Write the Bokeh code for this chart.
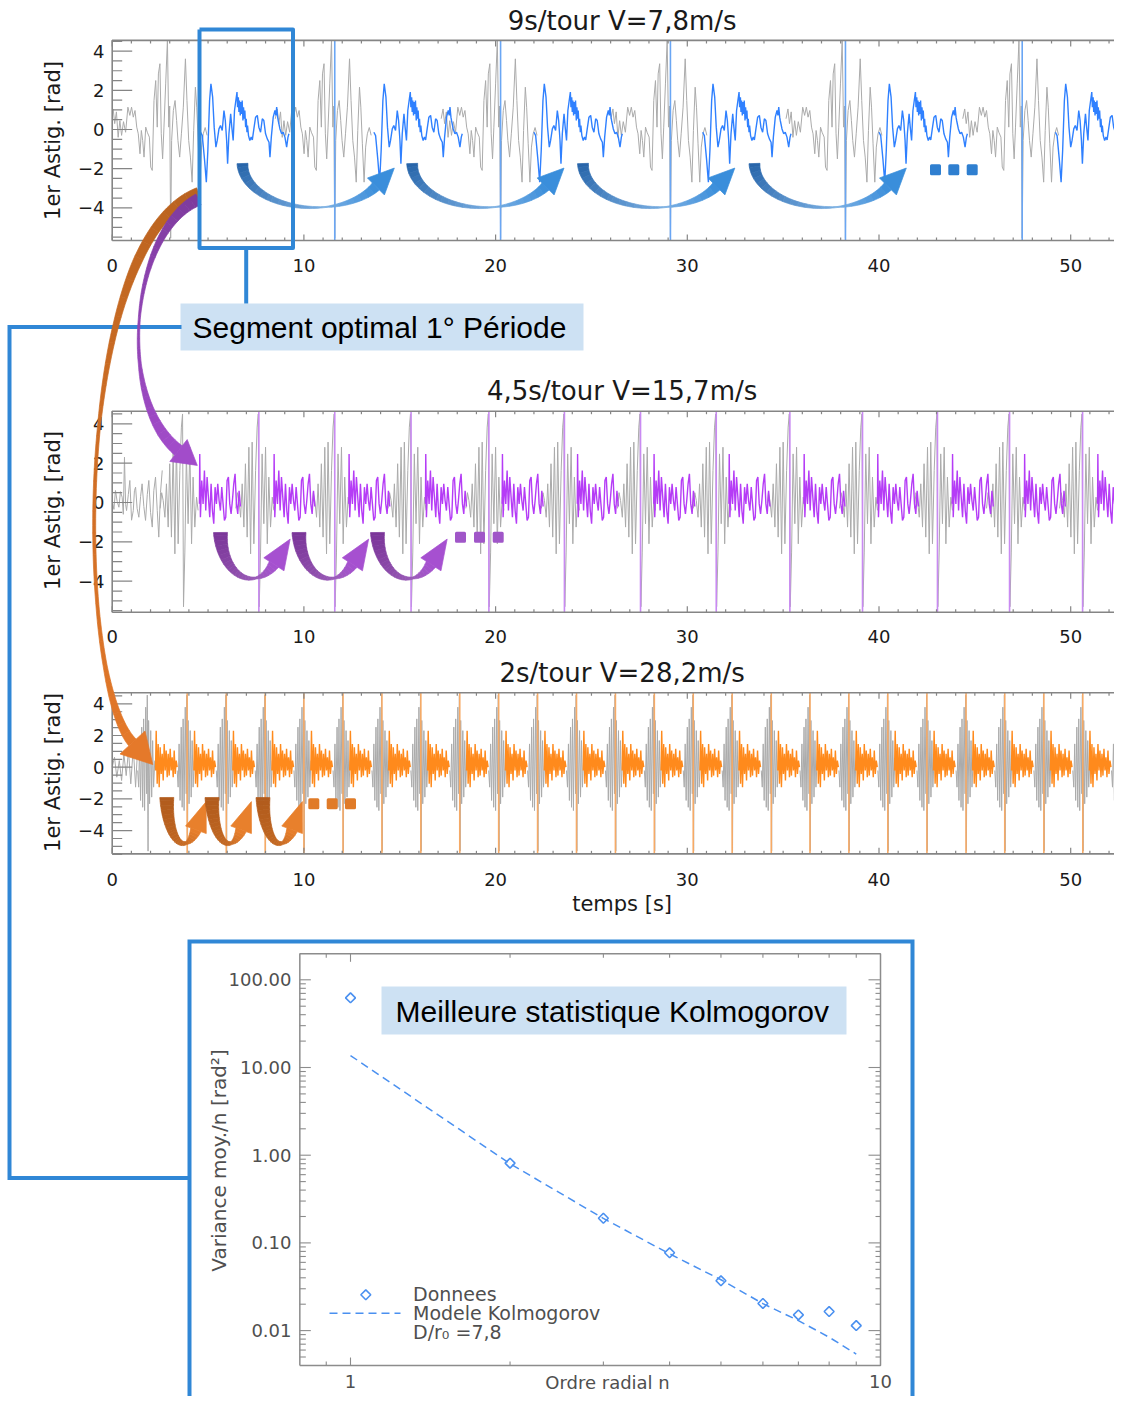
import numpy as np
from bokeh.plotting import figure
from bokeh.models import Range1d, LogScale
from bokeh.embed import file_html
from bokeh.resources import INLINE
from bokeh.core.properties import value

# ============================ DATA ============================
t_ticks = [0, 10, 20, 30, 40, 50]
t_tick_labels = ["0", "10", "20", "30", "40", "50"]
t_max = 53.07
amp_ticks = [-4, -2, 0, 2, 4]
amp_tick_labels = ["\u22124", "\u22122", "0", "2", "4"]
amp_label = "1er Astig. [rad]"
time_label = "temps [s]"

# --- panel 1 : 9 s/tour
p1_title = "9s/tour V=7,8m/s"
p1_first_edge = 3.05
p1_edges = [11.61, 20.26, 29.12, 38.25, 47.47]
p1_seg_starts = [4.61, 13.65, 22.00, 30.80, 40.00, 49.20]
p1_seg_dt = [0.00, 0.09, 0.21, 0.30, 0.38, 0.47, 0.54, 0.63, 0.71, 0.80,
             0.87, 0.96, 1.04, 1.13, 1.22, 1.29, 1.36, 1.41, 1.48, 1.57,
             1.63, 1.70, 1.77, 1.84, 1.90, 1.93, 1.97, 2.00, 2.03, 2.07,
             2.10, 2.14, 2.17, 2.21, 2.24, 2.28, 2.31, 2.35, 2.38, 2.42,
             2.45, 2.50, 2.57, 2.64, 2.70, 2.78, 2.87, 2.96, 3.04, 3.13,
             3.22, 3.30, 3.39, 3.48, 3.57, 3.62, 3.69, 3.79, 3.88, 3.93,
             3.97, 4.02, 4.05, 4.14, 4.23, 4.31, 4.40, 4.49, 4.56, 4.61]
p1_seg_v = [-0.14, -0.31, -1.58, -2.69, -1.07, 1.48, 2.33, 1.65, 0.12, -0.90,
            -0.56, 0.03, 0.20, -0.05, 0.97, 0.46, -0.56, -1.75, -0.22, 0.80,
            0.12, -0.56, 0.97, 1.48, 1.91, 1.14, 1.65, 0.89, 1.48, 0.72,
            1.40, 0.80, 1.48, 0.46, 1.14, 0.55, 0.97, 0.12, 0.55, -0.14,
            0.20, -0.31, -0.56, -0.39, -0.53, 0.03, 0.63, 0.72, 0.12, -0.14,
            0.55, 0.46, -0.22, -0.48, -0.65, -1.41, -0.39, 0.63, 0.97, 0.72,
            1.14, 0.63, 0.46, 0.03, -0.22, -0.14, -0.39, -0.90, -0.39, -0.22]
p1_gray_dt = [-3.10, -3.00, -2.92, -2.83, -2.74, -2.65, -2.56, -2.46, -2.35, -2.23,
              -2.13, -2.04, -1.95, -1.86, -1.77, -1.69, -1.60, -1.53, -1.46, -1.39,
              -1.30, -1.22, -1.11, -1.04, -0.96, -0.87, -0.78, -0.70, -0.64, -0.56,
              -0.49, -0.42, -0.35, -0.26, -0.17, -0.10, -0.05, 0.00, 0.05, 0.14,
              0.23, 0.31, 0.38, 0.47, 0.56, 0.66, 0.77, 0.85, 0.94, 1.03,
              1.12, 1.20, 1.29, 1.36, 1.44, 1.53, 1.61, 1.70, 1.80, 1.90]
p1_gray_v = [0.55, 1.05, 0.30, 0.90, -0.40, 0.45, -0.30, 0.40, -0.14, 1.14,
             0.72, 1.14, 0.63, 0.97, 0.12, -0.22, -1.24, -0.05, -0.56, -1.41,
             0.12, -0.14, -0.39, -1.92, -2.09, 1.48, 2.50, 0.12, 2.84, 3.36,
             -0.22, -1.50, 0.12, 2.33, 4.55, 0.12, 1.20, -5.55, -0.56, 0.97,
             1.48, 0.46, -0.56, -1.41, -0.22, 1.14, 3.61, 1.48, -0.56, -1.41,
             -2.69, -0.05, 2.16, 1.14, -0.73, -2.69, -0.90, -0.22, 0.10, -0.30]

# --- panel 2 : 4,5 s/tour
p2_title = "4,5s/tour V=15,7m/s"
p2_first_edge = 3.70
p2_edges = [7.65, 11.61, 15.59, 19.65, 23.59, 27.56, 31.51, 35.35, 39.14, 43.05, 46.81, 50.62]
p2_seg_starts = [4.55, 8.43, 12.34, 16.34, 20.34, 24.26, 28.25, 32.17, 36.08, 39.92, 43.82, 47.58, 51.40]
p2_seg_dt = [0.000, 0.017, 0.052, 0.122, 0.191, 0.261, 0.330, 0.400, 0.469, 0.539,
             0.609, 0.678, 0.748, 0.817, 0.887, 0.956, 1.026, 1.095, 1.165, 1.234,
             1.304, 1.374, 1.443, 1.513, 1.582, 1.652, 1.721, 1.791, 1.860, 1.930,
             2.000, 2.070, 2.140]
p2_seg_v = [-0.07, 2.47, -0.75, 1.12, -0.07, 1.63, -0.41, 1.29, 0.27, -0.75,
            0.95, -0.41, -1.08, 0.78, -0.07, 0.95, 0.10, -0.41, 0.78, -0.07,
            -0.91, -0.75, 1.12, 1.29, -0.07, -0.58, 0.10, 0.95, 1.46, -0.07,
            -0.58, 0.60, -0.20]
p2_gray_dt = [-1.20, -1.12, -1.04, -0.95, -0.87, -0.78, -0.70, -0.61, -0.52, -0.43,
              -0.35, -0.26, -0.17, -0.09, -0.03, 0.02, 0.09, 0.17, 0.26, 0.35,
              0.44, 0.52, 0.61, 0.70, 0.78]
p2_gray_v = [-0.30, 0.50, 0.10, -0.75, 0.95, -1.25, 1.97, -1.76, 2.81, -2.61,
             3.07, -2.10, 1.63, 3.83, 4.50, -5.30, -2.52, 2.47, -1.08, 2.81,
             -2.10, 1.29, -1.25, 0.27, -0.40]
p2_lead_t = [0.00, 0.09, 0.17, 0.26, 0.35, 0.43, 0.52, 0.58, 0.64, 0.70,
             0.75, 0.84, 0.92, 1.01, 1.10, 1.16, 1.22, 1.30, 1.39, 1.48,
             1.56, 1.65, 1.74, 1.83, 1.91, 2.00, 2.09, 2.17, 2.26, 2.35,
             2.43, 2.52, 2.61]
p2_lead_v = [0.10, -0.35, 0.61, 0.05, -0.24, 0.55, 0.27, -0.60, 2.30, -0.10,
             -0.41, 0.40, 1.12, -0.90, -0.41, 0.60, 0.78, -0.30, -0.75, 0.30,
             0.95, -0.20, -0.91, 0.40, 1.12, -0.50, -1.25, 0.60, 1.29, -0.40,
             -1.76, 0.50, 1.63]

# --- panel 3 : 2 s/tour
p3_title = "2s/tour V=28,2m/s"
p3_first_edge = 1.85
p3_edges = [3.91, 5.95, 7.98, 10.00, 12.04, 14.07, 16.10, 18.13, 20.16, 22.19,
            24.22, 26.25, 28.28, 30.31, 32.34, 34.38, 36.40, 38.43, 40.46, 42.50,
            44.54, 46.56, 48.60, 50.63, 52.65]
p3_seg_starts = [2.26, 4.26, 6.29, 8.33, 10.36, 12.39, 14.42, 16.45, 18.48, 20.51,
                 22.54, 24.57, 26.60, 28.63, 30.66, 32.69, 34.72, 36.75, 38.78, 40.81,
                 42.84, 44.88, 46.91, 48.94, 50.97]
p3_seg_dt = [0.000, 0.035, 0.087, 0.139, 0.191, 0.243, 0.296, 0.348, 0.400, 0.452,
             0.504, 0.556, 0.609, 0.661, 0.713, 0.765, 0.817, 0.869, 0.922, 0.974,
             1.026, 1.078, 1.130]
p3_seg_v = [-0.21, 2.30, -1.05, 1.47, -1.26, 1.26, -0.42, 0.84, -0.84, 1.47,
            -0.21, 1.05, -0.63, 0.84, -0.53, 1.16, -0.21, 0.63, -0.63, 1.05,
            -0.42, 0.42, 0.00]
p3_gray_dt = [-0.52, -0.47, -0.42, -0.37, -0.31, -0.26, -0.21, -0.16, -0.10, -0.05,
              -0.02, 0.02, 0.05, 0.10, 0.16, 0.21, 0.26, 0.31, 0.37]
p3_gray_v = [-0.21, -1.26, 1.47, -2.10, 2.53, -2.53, 3.05, -2.74, 3.79, -1.68,
             4.55, -5.30, 2.95, -2.31, 2.31, -1.89, 1.68, -1.26, 0.42]
p3_lead_t = [0.00, 0.12, 0.24, 0.37, 0.49, 0.61, 0.73, 0.85, 0.97, 1.10, 1.22, 1.30]
p3_lead_v = [0.00, 0.63, -0.63, 0.42, -0.84, 0.84, -0.53, 1.05, -1.05, 1.26, -1.26, 0.60]

# --- variance vs radial order (log-log)
radial_order = [1, 2, 3, 4, 5, 6, 7, 8, 9]
variance_data = [62.3, 0.811, 0.191, 0.0771, 0.0370, 0.0204, 0.0151, 0.0165, 0.0114]
variance_model = [13.7, 0.80, 0.19, 0.075, 0.038, 0.0203, 0.0130, 0.0084, 0.0054]
var_ticks = [0.01, 0.1, 1.0, 10.0, 100.0]
var_tick_labels = ["0.01", "0.10", "1.00", "10.00", "100.00"]
order_ticks = [1.0, 10.0]
order_tick_labels = ["1", "10"]
var_label = "Variance moy./n [rad\u00b2]"
order_label = "Ordre radial n"
legend_labels = ["Donnees", "Modele Kolmogorov", "D/r\u2080 =7,8"]
var_frame_n = (0.8024, 10.0)
var_frame_v = (0.0040, 197.9)

# annotation texts
seg_text = "Segment optimal 1\u00b0 P\u00e9riode"
best_text = "Meilleure statistique Kolmogorov"

# ============================ STYLE ============================
GRAY = "#ababab"
AX = "#858585"
TXT = "#1a1a1a"
LTXT = "#4f4f4f"
BLUE, BLUE_EDGE = "#2f80ff", "#6aa6f4"
PURPLE, PURPLE_EDGE = "#b53cf6", "#c98af2"
ORANGE, ORANGE_EDGE = "#ff8a1c", "#f6aa66"
BOX = "#3087d6"
LBLUE = "#cde1f3"
DBLUE = "#4a90f0"
FONT = value("DejaVu Sans")
SANS = value("Liberation Sans")

# ============================ CANVAS ============================
W, H = 1114, 1396
OX, OY = 0, 0
p = figure(width=W, height=H, x_range=Range1d(OX, OX + W), y_range=Range1d(OY + H, OY),
           x_axis_type=None, y_axis_type=None, toolbar_location=None, title=None,
           min_border=0, output_backend="svg")
p.outline_line_color = None
p.background_fill_color = "white"
p.border_fill_color = "white"

T0, TPX = 111.7, 19.17
N1PX, NDEC = 350.0, 530.0
V100PX, VDEC = 979.3, 87.7


def lin_x(px0, v0, ppu):
    return Range1d(v0 + (OX - px0) / ppu, v0 + (OX + W - px0) / ppu)


def lin_y(px0, v0, ppu):
    return Range1d(v0 - (OY + H - px0) / ppu, v0 + (px0 - OY) / ppu)


p.extra_x_ranges = {"t": lin_x(T0, 0.0, TPX),
                    "n": Range1d(10 ** ((OX - N1PX) / NDEC), 10 ** ((OX + W - N1PX) / NDEC))}
p.extra_y_ranges = {"a1": lin_y(129.0, 0.0, 19.58),
                    "a2": lin_y(502.0, 0.0, 19.675),
                    "a3": lin_y(766.7, 0.0, 15.84),
                    "var": Range1d(10 ** (2 - (OY + H - V100PX) / VDEC), 10 ** (2 + (V100PX - OY) / VDEC))}
p.extra_x_scales = {"n": LogScale()}
p.extra_y_scales = {"var": LogScale()}


def tile(starts, dt, vals):
    dt = np.asarray(dt, float)
    vals = np.asarray(vals, float)
    n = min(len(dt), len(vals))
    xs, ys = [], []
    for s in starts:
        x = s + dt[:n]
        y = vals[:n]
        m = (x >= 0) & (x <= t_max)
        if m.sum() > 1:
            xs.append(x[m].tolist())
            ys.append(y[m].tolist())
    return xs, ys


panels = [
    dict(y="a1", ppu=19.58, zero=129.0, lo=-5.67, hi=4.55, title=p1_title, title_px=20.0,
         xlab_px=265.0, ylab_px=140.0, first=p1_first_edge, edges=p1_edges, gdt=p1_gray_dt, gv=p1_gray_v,
         lead_t=None, lead_v=None, starts=p1_seg_starts, sdt=p1_seg_dt, sv=p1_seg_v,
         col=BLUE, ecol=BLUE_EDGE),
    dict(y="a2", ppu=19.675, zero=502.0, lo=-5.58, hi=4.64, title=p2_title, title_px=390.0,
         xlab_px=635.5, ylab_px=510.0, first=p2_first_edge, edges=p2_edges, gdt=p2_gray_dt, gv=p2_gray_v,
         lead_t=p2_lead_t, lead_v=p2_lead_v, starts=p2_seg_starts, sdt=p2_seg_dt, sv=p2_seg_v,
         col=PURPLE, ecol=PURPLE_EDGE),
    dict(y="a3", ppu=15.84, zero=766.7, lo=-5.47, hi=4.70, title=p3_title, title_px=672.0,
         xlab_px=878.5, ylab_px=772.0, first=p3_first_edge, edges=p3_edges, gdt=p3_gray_dt, gv=p3_gray_v,
         lead_t=p3_lead_t, lead_v=p3_lead_v, starts=p3_seg_starts, sdt=p3_seg_dt, sv=p3_seg_v,
         col=ORANGE, ecol=ORANGE_EDGE),
]

for P in panels:
    kw = dict(x_range_name="t", y_range_name=P["y"])
    lo, hi, ppu, zero = P["lo"], P["hi"], P["ppu"], P["zero"]
    # data
    gx, gy = tile([P["first"]] + list(P["edges"]), P["gdt"], P["gv"])
    if P["lead_t"] is not None:
        gx.append(list(P["lead_t"]))
        gy.append(list(P["lead_v"]))
    p.multi_line(gx, gy, line_color=GRAY, line_width=1.0, **kw)
    ne = len(P["edges"])
    p.segment(x0=P["edges"], x1=P["edges"], y0=[lo] * ne, y1=[hi] * ne,
              line_color=P["ecol"], line_width=1.6, **kw)
    sx, sy = tile(P["starts"], P["sdt"], P["sv"])
    p.multi_line(sx, sy, line_color=P["col"], line_width=1.4, **kw)
    # frame + ticks
    p.line([0, t_max, t_max, 0, 0], [lo, lo, hi, hi, lo], line_color=AX, line_width=1.6, **kw)
    minor_x = [float(v) for v in range(1, 54) if v % 10]
    for ticks, L in ((minor_x, 3.0), (list(map(float, t_ticks)), 6.0)):
        n = len(ticks)
        p.segment(x0=ticks, x1=ticks, y0=[lo] * n, y1=[lo + L / ppu] * n, line_color=AX, line_width=1.2, **kw)
        p.segment(x0=ticks, x1=ticks, y0=[hi] * n, y1=[hi - L / ppu] * n, line_color=AX, line_width=1.2, **kw)
    minor_y = [v / 2 for v in range(-11, 10) if v % 4]
    for ticks, Ll, Lr in ((minor_y, 10.0, 7.0), (list(map(float, amp_ticks)), 20.0, 15.0)):
        n = len(ticks)
        p.segment(x0=[0.0] * n, x1=[Ll / TPX] * n, y0=ticks, y1=ticks, line_color=AX, line_width=1.2, **kw)
        p.segment(x0=[t_max] * n, x1=[t_max - Lr / TPX] * n, y0=ticks, y1=ticks,
                  line_color=AX, line_width=1.2, **kw)
    # texts
    p.text(x=t_ticks, y=[(zero - P["xlab_px"]) / ppu] * len(t_ticks), text=t_tick_labels,
           text_align="center", text_baseline="middle", text_font=FONT, text_font_size="18px",
           text_color=TXT, **kw)
    p.text(x=[(104.0 - T0) / TPX] * len(amp_ticks), y=amp_ticks, text=amp_tick_labels,
           text_align="right", text_baseline="middle", text_font=FONT, text_font_size="18px",
           text_color=TXT, **kw)
    p.text(x=[(52.0 - T0) / TPX], y=[(zero - P["ylab_px"]) / ppu], text=[amp_label], angle=np.pi / 2,
           text_align="center", text_baseline="middle", text_font=FONT, text_font_size="21px",
           text_color=TXT, **kw)
    p.text(x=[26.6], y=[(zero - P["title_px"]) / ppu], text=[P["title"]],
           text_align="center", text_baseline="middle", text_font=FONT, text_font_size="26px",
           text_color=TXT, **kw)

P3 = panels[2]
p.text(x=[26.6], y=[(P3["zero"] - 903.0) / P3["ppu"]], text=[time_label], text_align="center",
       text_baseline="middle", text_font=FONT, text_font_size="21px", text_color=TXT,
       x_range_name="t", y_range_name="a3")

# ---------------- log-log plot ----------------
kwl = dict(x_range_name="n", y_range_name="var")
nlo, nhi = var_frame_n
vlo, vhi = var_frame_v
LAX = "#8c8c8c"
p.line([nlo, nhi, nhi, nlo, nlo], [vlo, vlo, vhi, vhi, vlo], line_color=LAX, line_width=1.5, **kwl)


def fx(px):
    return 10 ** (px / NDEC)


def fy(px):
    return 10 ** (px / VDEC)


ymin = [k * 10.0 ** e for e in range(-3, 3) for k in range(2, 10) if vlo < k * 10.0 ** e < vhi]
for ticks, Ll, Lr in ((ymin, 6, 5), (var_ticks, 11, 12)):
    n = len(ticks)
    p.segment(x0=[nlo] * n, x1=[nlo * fx(Ll)] * n, y0=ticks, y1=ticks, line_color=LAX, line_width=1.1, **kwl)
    p.segment(x0=[nhi] * n, x1=[nhi / fx(Lr)] * n, y0=ticks, y1=ticks, line_color=LAX, line_width=1.1, **kwl)
xmin = [0.9] + [float(k) for k in range(2, 10)]
for ticks, L in ((xmin, 4), (order_ticks[:1], 8)):
    n = len(ticks)
    p.segment(x0=ticks, x1=ticks, y0=[vlo] * n, y1=[vlo * fy(L)] * n, line_color=LAX, line_width=1.1, **kwl)
    p.segment(x0=ticks, x1=ticks, y0=[vhi] * n, y1=[vhi / fy(L)] * n, line_color=LAX, line_width=1.1, **kwl)

p.text(x=[10 ** ((291 - N1PX) / NDEC)] * len(var_ticks), y=var_ticks, text=var_tick_labels,
       text_align="right", text_baseline="middle", text_font=FONT, text_font_size="18px",
       text_color=LTXT, **kwl)
p.text(x=order_ticks, y=[10 ** (2 - (1381 - V100PX) / VDEC)] * 2, text=order_tick_labels,
       text_align="center", text_baseline="middle", text_font=FONT, text_font_size="18px",
       text_color=LTXT, **kwl)
p.text(x=[10 ** ((607 - N1PX) / NDEC)], y=[10 ** (2 - (1382 - V100PX) / VDEC)], text=[order_label],
       text_align="center", text_baseline="middle", text_font=FONT, text_font_size="18px",
       text_color=LTXT, **kwl)
p.text(x=[10 ** ((218 - N1PX) / NDEC)], y=[10 ** (2 - (1160 - V100PX) / VDEC)], text=[var_label],
       angle=np.pi / 2, text_align="center", text_baseline="middle", text_font=FONT,
       text_font_size="20px", text_color=LTXT, **kwl)

p.line(radial_order, variance_model, line_color=DBLUE, line_width=1.5, line_dash="8 5", **kwl)
p.scatter(radial_order, variance_data, marker="square", angle=np.pi / 4, size=7, fill_color=None,
          line_color=DBLUE, line_width=1.6, **kwl)

# legend (page coordinates)
p.scatter([365.3], [1294.3], marker="square", angle=np.pi / 4, size=7, fill_color=None,
          line_color=DBLUE, line_width=1.6)
p.line([329, 400], [1312.7, 1312.7], line_color=DBLUE, line_width=1.5, line_dash="8 5")
p.text(x=[412.5] * 3, y=[1293.3, 1312.7, 1331.7], text=legend_labels, text_align="left",
       text_baseline="middle", text_font=FONT, text_font_size="19px", text_color=LTXT)

# ---------------- annotation graphics (page coordinates) ----------------


def mix(c0, c1, f):
    a = [int(c0[i:i + 2], 16) for i in (1, 3, 5)]
    b = [int(c1[i:i + 2], 16) for i in (1, 3, 5)]
    return "#%02x%02x%02x" % tuple(int(round(a[k] + (b[k] - a[k]) * f)) for k in range(3))


def grad3(c0, cm, c1, fm):
    def f(u):
        if u < fm:
            return mix(c0, cm, u / fm)
        return mix(cm, c1, (u - fm) / max(1e-9, 1 - fm))
    return f


def ribbon(x, y, w, colf, nchunk=24):
    dx = np.gradient(x)
    dy = np.gradient(y)
    L = np.hypot(dx, dy)
    nx, ny = -dy / L, dx / L
    lx, ly = x + nx * w / 2, y + ny * w / 2
    rx, ry = x - nx * w / 2, y - ny * w / 2
    idx = np.linspace(0, len(x) - 1, nchunk + 1).astype(int)
    xs, ys, cs = [], [], []
    for i in range(nchunk):
        a, b = idx[i], idx[i + 1]
        s = slice(a, b + 1)
        xs.append(np.concatenate([lx[s], rx[s][::-1]]).tolist())
        ys.append(np.concatenate([ly[s], ry[s][::-1]]).tolist())
        cs.append(colf((i + 0.5) / nchunk))
    p.patches(xs, ys, fill_color=cs, line_color=cs, line_width=0.7)


def head(ex, ey, tx, ty, hl, hw, col):
    L = np.hypot(tx, ty)
    tx, ty = tx / L, ty / L
    nx, ny = -ty, tx
    p.patch([ex + nx * hw / 2, ex + tx * hl, ex - nx * hw / 2], [ey + ny * hw / 2, ey + ty * hl, ey - ny * hw / 2],
            fill_color=col, line_color=col, line_width=0.7)


def u_arrow(x_tail, top, a, b, th_end, w_tail, w_mid, w_end, hl, hw, c0, cm, c1):
    cx = x_tail + a
    th = np.linspace(0.0, th_end, 70)
    x = cx - a * np.cos(th)
    y = top + b * np.sin(th)
    th_m = 0.55 * np.pi
    w = np.interp(th, [0.0, th_m, th_end], [w_tail, w_mid, w_end])
    ribbon(x, y, w, grad3(c0, cm, c1, th_m / th_end))
    head(x[-1], y[-1], a * np.sin(th_end), b * np.cos(th_end), hl, hw, c1)


def bez_arrow(P, ts, ws, hl, hw, c0, c1):
    P = np.asarray(P, float)
    t = np.linspace(0, 1, 100)[:, None]
    pts = (1 - t) ** 3 * P[0] + 3 * (1 - t) ** 2 * t * P[1] + 3 * (1 - t) * t ** 2 * P[2] + t ** 3 * P[3]
    w = np.interp(t[:, 0], ts, ws)
    ribbon(pts[:, 0], pts[:, 1], w, lambda u: mix(c0, c1, u), nchunk=30)
    d = P[3] - P[2]
    head(P[3][0], P[3][1], d[0], d[1], hl, hw, c1)


# label boxes
p.quad(left=[180], right=[583], top=[303], bottom=[350], fill_color=LBLUE, line_color=None)
p.quad(left=[381], right=[846], top=[986], bottom=[1034], fill_color=LBLUE, line_color=None)

# connectors and frames
p.line([245.7, 245.7], [249.5, 303], line_color=BOX, line_width=4)
p.line([181, 9, 9, 189], [326.5, 326.5, 1177.5, 1177.5], line_color=BOX, line_width=4, line_join="miter")
p.line([189, 189, 912, 912], [1400, 941, 941, 1400], line_color=BOX, line_width=4, line_join="miter")

# long curved arrows
bez_arrow([(198, 192), (70, 240), (75, 680), (132, 742)],
          [0, 0.2, 0.3, 0.45, 0.7, 0.8, 0.9, 1.0], [10, 9, 6, 3, 3, 4, 7, 10],
          30, 34, "#b8621f", "#e5792a")
bez_arrow([(198, 199), (130, 230), (115, 400), (178, 450)],
          [0, 0.2, 0.35, 0.5, 0.65, 0.8, 0.9, 1.0], [12, 7, 4, 2, 3, 7, 10, 12],
          24, 28, "#7d3b9c", "#a24cca")

# U arrows
for xt in (242.0, 411.7, 582.5, 754.0):
    u_arrow(xt, 163.0, 72.0, 44.0, np.pi - np.arctan(44.0 / 72.0), 11, 1.0, 10, 26, 24,
            "#2563a8", "#79aee2", "#3a8edb")
for xt in (220.0, 298.5, 377.0):
    u_arrow(xt, 532.0, 31.0, 46.0, 2.378, 14, 2.0, 11, 30, 24, "#7a3598", "#9a5cb8", "#a650d0")
for xt in (166.3, 211.5, 262.5):
    u_arrow(xt, 797.0, 17.0, 46.0, 2.363, 14, 3.0, 11, 30, 22, "#b05a1c", "#c86c24", "#e8802c")

# ellipsis dots
for xs, yv, c in (([935.0, 953.3, 971.7], 169.3, "#2f7fd0"),
                  ([460.0, 479.0, 497.7], 536.7, "#a056c8"),
                  ([313.3, 331.7, 350.0], 803.3, "#e07b28")):
    p.scatter(xs, [yv] * 3, marker="square", size=8, fill_color=c, line_color=c, line_width=3,
              line_join="round")

# optimal segment box
p.line([199, 292.5, 292.5, 199, 199], [29, 29, 247.5, 247.5, 29], line_color=BOX, line_width=4,
       line_join="round")

# annotation texts
p.text(x=[192], y=[326.5], text=[seg_text], text_align="left", text_baseline="middle",
       text_font=SANS, text_font_size="30px", text_color="black")
p.text(x=[395], y=[1010.5], text=[best_text], text_align="left", text_baseline="middle",
       text_font=SANS, text_font_size="30px", text_color="black")

open("out.html", "w").write(file_html(p, INLINE))
